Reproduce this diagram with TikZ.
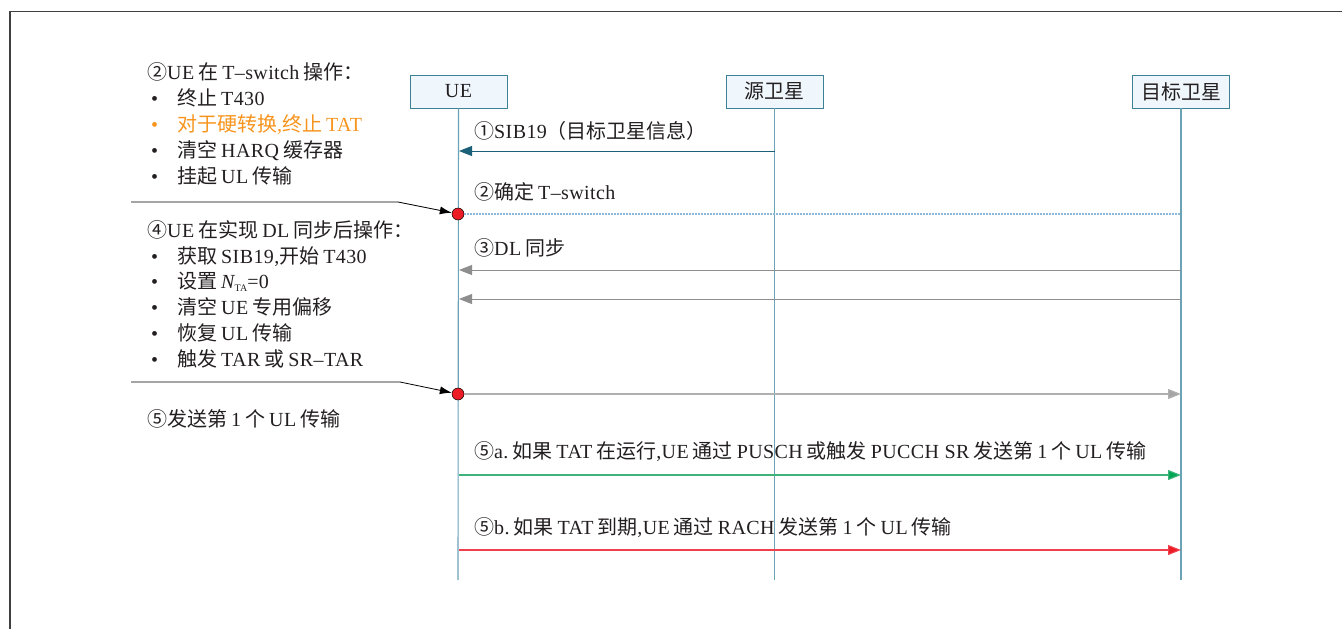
\documentclass[tikz,border=0pt]{standalone}
\usepackage{fontspec}
\setmainfont[LetterSpace=2]{Liberation Serif}
\newfontfamily\zhf{Noto Sans CJK SC}
\newcommand\g{\hspace{0.2em}}
\newcommand\zh[1]{\g{\zhf #1}\g}
\newcommand\zn[1]{{\zhf #1}}
\newcommand\zb[1]{\g{\zhf #1}}
\newcommand\za[1]{{\zhf #1}\g}
\usetikzlibrary{arrows.meta}
\definecolor{txt}{HTML}{231F20}
\definecolor{boxfill}{HTML}{EFF7FD}
\definecolor{boxline}{HTML}{3E8096}
\definecolor{lifec}{HTML}{6AA2B6}
\definecolor{msgblue}{HTML}{1B6079}
\definecolor{dotblue}{HTML}{8DB8D8}
\definecolor{greyline}{HTML}{8E8E8E}
\definecolor{lightgrey}{HTML}{B0B0B0}
\definecolor{greenline}{HTML}{3DB37A}
\definecolor{greenhead}{HTML}{00A651}
\definecolor{redline}{HTML}{F04050}
\definecolor{redhead}{HTML}{ED1C24}
\definecolor{orangetxt}{HTML}{F7941D}
\begin{document}
\begin{tikzpicture}[x=1pt,y=-1pt,
  every node/.style={font=\fontsize{20}{23}\selectfont, text=txt},
  lifebox/.style={draw=boxline, fill=boxfill, line width=0.9pt, minimum width=97pt, minimum height=33pt, inner sep=0pt},
  life/.style={draw=lifec, line width=1.1pt},
  lbl/.style={anchor=base west, inner sep=0pt},
  bul/.style={anchor=base west, inner sep=0pt},
  dot/.style={circle, draw=black, line width=0.5pt, fill=redhead, minimum size=12pt, inner sep=0pt},
  blk/.style={draw=black, line width=0.8pt, -{Latex[length=12pt,width=8pt]}},
  frame/.style={draw=black!75, line width=1.2pt}
]
\useasboundingbox (0,0) rectangle (1342,629);
\draw[frame] (10,629) -- (10,11.5) -- (1342,11.5);

% lifeline heads
\node[lifebox] (ue) at (458.5,91.5) {UE};
\node[lifebox] (src) at (774.5,91.5) {\zn{源卫星}};
\node[lifebox] (tgt) at (1181,91.5) {\zn{目标卫星}};
\coordinate (ueend) at (458,580);
\coordinate (srcend) at (774.5,580);
\coordinate (tgtend) at (1181,580);
\draw[life] (ue.south) -- (ueend);
\draw[life] (src.south) -- (srcend);
\draw[life] (tgt.south) -- (tgtend);

% messages
\coordinate (m1s) at (774.5,151);
\coordinate (m1e) at (459,151);
\draw[msgblue, line width=1pt, -{Triangle[length=13pt,width=10pt]}] (m1s) -- (m1e);
\node[lbl] (t1) at (474,138) {\zn{①}SIB19\zn{（目标卫星信息）}};

\node[dot] (c1) at (458,214) {};
\coordinate (m2e) at (1181,214);
\draw[dotblue, line width=1.2pt, dash pattern=on 1.4pt off 1.6pt] (c1.east) -- (m2e);
\node[lbl] (t2) at (474,199) {\za{②确定}T--switch};

\coordinate (m3s) at (1181,270);
\coordinate (m3e) at (459,270);
\coordinate (m4s) at (1181,299);
\coordinate (m4e) at (459,299);
\draw[greyline, line width=1pt, -{Triangle[length=13pt,width=10pt]}] (m3s) -- (m3e);
\draw[greyline, line width=1pt, -{Triangle[length=13pt,width=10pt]}] (m4s) -- (m4e);
\node[lbl] (t3) at (474,255) {\zn{③}DL\zb{同步}};

\node[dot] (c2) at (458,394) {};
\coordinate (m5e) at (1181,394);
\draw[lightgrey, line width=1.1pt, -{Triangle[length=13pt,width=10pt,fill=greyline!80]}] (c2.east) -- (m5e);

\coordinate (m6s) at (459,475);
\coordinate (m6e) at (1181,475);
\draw[greenline, line width=1.1pt, -{Triangle[length=13pt,width=10pt,fill=greenhead]}] (m6s) -- (m6e);
\node[lbl] (t6) at (474,458) {\zn{⑤}a.\zh{如果}TAT\zb{在运行},UE\zh{通过}PUSCH\zh{或触发}PUCCH SR\zh{发送第}1\zh{个}UL\zb{传输}};

\coordinate (m7s) at (459,550);
\coordinate (m7e) at (1181,550);
\draw[redline, line width=1.1pt, -{Triangle[length=13pt,width=10pt,fill=redhead]}] (m7s) -- (m7e);
\node[lbl] (t7) at (474,534) {\zn{⑤}b.\zh{如果}TAT\zb{到期},UE\zh{通过}RACH\zh{发送第}1\zh{个}UL\zb{传输}};

% left annotations
\node[lbl] (h2) at (147,79) {\zn{②}UE\zh{在}T--switch\zb{操作：}};
\node[bul] (b21) at (151,105) {\textbullet};
\node[lbl] (i21) at (177,105) {\za{终止}T430};
\node[bul, text=orangetxt] (b22) at (151,131) {\textbullet};
\node[lbl, text=orangetxt] (i22) at (177,131) {\zn{对于硬转换},\za{终止}TAT};
\node[bul] (b23) at (151,157) {\textbullet};
\node[lbl] (i23) at (177,157) {\za{清空}HARQ\zb{缓存器}};
\node[bul] (b24) at (151,183) {\textbullet};
\node[lbl] (i24) at (177,183) {\za{挂起}UL\zb{传输}};

\coordinate (a1) at (131,202);
\coordinate (a1b) at (398,202);
\draw[blk] (a1) -- (a1b) -- (c1);

\node[lbl] (h4) at (147,237) {\zn{④}UE\zh{在实现}DL\zb{同步后操作：}};
\node[bul] (b41) at (151,263) {\textbullet};
\node[lbl] (i41) at (177,263) {\za{获取}SIB19,\za{开始}T430};
\node[bul] (b42) at (151,288) {\textbullet};
\node[lbl] (i42) at (177,288) {\za{设置}{\itshape N}\raisebox{-0.35ex}{\fontsize{10}{11}\selectfont TA}=0};
\node[bul] (b43) at (151,314) {\textbullet};
\node[lbl] (i43) at (177,314) {\za{清空}UE\zb{专用偏移}};
\node[bul] (b44) at (151,340) {\textbullet};
\node[lbl] (i44) at (177,340) {\za{恢复}UL\zb{传输}};
\node[bul] (b45) at (151,366) {\textbullet};
\node[lbl] (i45) at (177,366) {\za{触发}TAR\zh{或}SR--TAR};

\coordinate (a2) at (131,382);
\coordinate (a2b) at (400,382);
\draw[blk] (a2) -- (a2b) -- (c2);

\node[lbl] (h5) at (147,426) {\za{⑤发送第}1\zh{个}UL\zb{传输}};
\end{tikzpicture}
\end{document}
